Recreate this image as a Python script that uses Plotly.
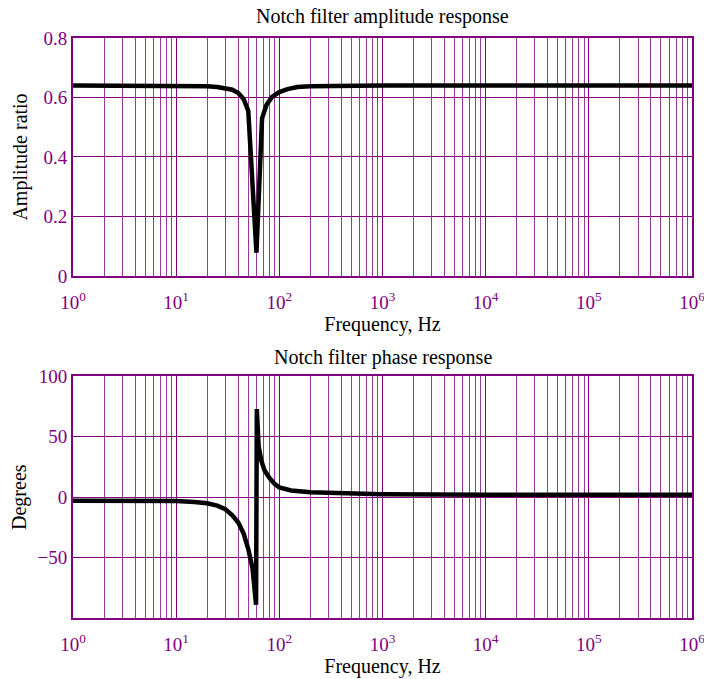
import plotly.graph_objects as go

# Amplitude response
amp_freq = [1, 5, 10, 15, 20, 25, 30, 35, 40, 45, 50, 60, 68, 75, 85, 100, 120, 150, 200, 500, 1e3, 1e4, 1e5, 1e6]
amp_ratio = [0.64, 0.64, 0.64, 0.639, 0.638, 0.635, 0.632, 0.626, 0.615, 0.595, 0.555, 0.078, 0.53, 0.575,
             0.602, 0.618, 0.628, 0.635, 0.638, 0.64, 0.64, 0.64, 0.64, 0.64]

# Phase response
ph_freq = [1, 5, 10, 15, 20, 25, 30, 35, 40, 45, 50, 55, 59.5, 60.5, 63, 67, 72, 80, 90, 100, 130, 200, 400,
           1e3, 1e4, 1e5, 1e6]
ph_deg = [-3, -3, -3.2, -4, -5, -7, -10, -15, -21, -30, -43, -59, -89, 73, 42, 30, 22, 16, 11, 8, 5.5, 4, 3,
          2.5, 2, 2, 2]

decades = [1, 10, 100, 1e3, 1e4, 1e5, 1e6]
decade_labels = ["10<sup>0</sup>", "10<sup>1</sup>", "10<sup>2</sup>", "10<sup>3</sup>",
                 "10<sup>4</sup>", "10<sup>5</sup>", "10<sup>6</sup>"]
minor_vals = [m * d for d in decades[:-1] for m in range(2, 10)]

amp_ticks = [0, 0.2, 0.4, 0.6, 0.8]
amp_ticktext = ["0", "0.2", "0.4", "0.6", "0.8"]
ph_ticks = [-50, 0, 50, 100]
ph_ticktext = ["\u221250", "0", "50", "100"]

PURPLE = "#800080"
MINOR_PURPLE = "#983a98"
FONT = "Liberation Serif"

# page body adds an 8px margin around the figure
W, H = 704, 671
ML, MR, MT, MB = 65, 20, 30, 61
plot_h = H - MT - MB

fig = go.Figure()
fig.add_trace(go.Scatter(x=amp_freq, y=amp_ratio, mode="lines",
                         line=dict(color="black", width=4.5), xaxis="x", yaxis="y", showlegend=False))
fig.add_trace(go.Scatter(x=ph_freq, y=ph_deg, mode="lines",
                         line=dict(color="black", width=4.5), xaxis="x2", yaxis="y2", showlegend=False))

def xax(anchor):
    return dict(type="log", range=[0, 6], anchor=anchor, tickmode="array", tickvals=decades,
                ticktext=decade_labels, showgrid=True, gridcolor=PURPLE, gridwidth=1,
                minor=dict(tickmode="array", tickvals=minor_vals, showgrid=True, gridcolor=MINOR_PURPLE,
                           gridwidth=1, ticks=""),
                showline=True, mirror=True, linecolor=PURPLE, linewidth=2, ticks="",
                automargin=False, ticklabelstandoff=8,
                tickfont=dict(family=FONT, size=19, color=PURPLE),
                title=dict(text="Frequency, Hz", font=dict(family=FONT, size=20, color="black"), standoff=4),
                zeroline=False)

def yax(anchor, domain, rng, tv, tt, title):
    return dict(domain=domain, range=rng, anchor=anchor, tickmode="array", tickvals=tv, ticktext=tt,
                showgrid=True, gridcolor=PURPLE, gridwidth=1, showline=True, mirror=True,
                linecolor=PURPLE, linewidth=2, ticks="", zeroline=False, automargin=False,
                tickfont=dict(family=FONT, size=19, color=PURPLE),
                title=dict(text=title, font=dict(family=FONT, size=20, color="black"), standoff=10))

fig.update_layout(
    width=W, height=H,
    margin=dict(l=ML, r=MR, t=MT, b=MB, autoexpand=False),
    paper_bgcolor="white", plot_bgcolor="white",
    xaxis=xax("y"),
    yaxis=yax("x", [0.5897, 1.0], [0, 0.8], amp_ticks, amp_ticktext, "Amplitude ratio"),
    xaxis2=xax("y2"),
    yaxis2=yax("x2", [0.0, 0.4166], [-100, 100], ph_ticks, ph_ticktext, "Degrees"),
    annotations=[
        dict(text="Notch filter amplitude response", x=0.5, y=(H - MB - 8) / plot_h,
             xref="paper", yref="paper", yanchor="middle", xanchor="center",
             showarrow=False, font=dict(family=FONT, size=20, color="black")),
        dict(text="Notch filter phase response", x=0.5, y=(H - MB - 349) / plot_h,
             xref="paper", yref="paper", yanchor="middle", xanchor="center",
             showarrow=False, font=dict(family=FONT, size=20, color="black")),
    ],
)

fig.write_html("out.html")
